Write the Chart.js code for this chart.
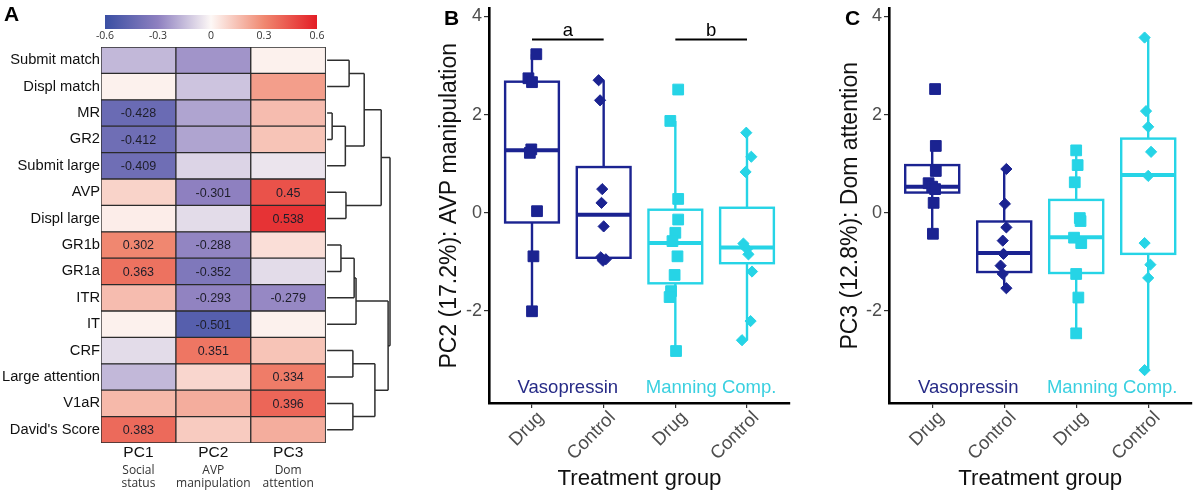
<!DOCTYPE html>
<html>
<head>
<meta charset="utf-8">
<script src="https://cdn.jsdelivr.net/npm/chart.js@4.4.1/dist/chart.umd.min.js"></script>
<style>
  html, body { margin: 0; padding: 0; background: #fff; }
  #wrap { position: relative; width: 1200px; height: 497px; overflow: hidden; }
  #wrap canvas { position: absolute; top: 0; }
</style>
</head>
<body>
<div id="wrap">
  <canvas id="chart-heat" width="430" height="497" style="left:0"></canvas>
  <canvas id="chart-pc2" width="390" height="497" style="left:430px"></canvas>
  <canvas id="chart-pc3" width="380" height="497" style="left:820px"></canvas>
</div>
<script>
/* ── Data: loadings heatmap (panel A) ── */
const rowLabels = ['Submit match', 'Displ match', 'MR', 'GR2', 'Submit large', 'AVP', 'Displ large',
  'GR1b', 'GR1a', 'ITR', 'IT', 'CRF', 'Large attention', 'V1aR', "David's Score"];
const pcNames = ['PC1', 'PC2', 'PC3'];
const pcSubtitles = [['Social', 'status'], ['AVP', 'manipulation'], ['Dom', 'attention']];
const loadPC1 = [-0.16, 0.02, -0.428, -0.412, -0.409, 0.10, 0.03, 0.302, 0.363, 0.16, 0.02, -0.07, -0.16, 0.17, 0.383];
const loadPC2 = [-0.25, -0.13, -0.21, -0.21, -0.09, -0.301, -0.07, -0.288, -0.352, -0.293, -0.501, 0.351, 0.09, 0.20, 0.12];
const loadPC3 = [0.02, 0.24, 0.16, 0.14, -0.05, 0.45, 0.538, 0.07, -0.07, -0.279, 0.02, 0.14, 0.334, 0.396, 0.20];
const colorTicks = [-0.6, -0.3, 0, 0.3, 0.6];
const colorStops = ['#3a4fa3', '#8e80c0', '#fdf8f6', '#f08870', '#e31d25'];
const labelCutoff = 0.275;
// dendrogram merges: [node a, node b, height]; leaves are row indices, merge k makes node 15 + k
const dendroMerges = [
  [0, 1, 0.35], [2, 3, 0.08], [16, 4, 0.29], [15, 17, 0.59], [5, 6, 0.30], [18, 19, 0.86],
  [7, 8, 0.22], [21, 9, 0.43], [22, 10, 0.46], [11, 12, 0.41], [13, 14, 0.41], [24, 25, 0.76],
  [23, 26, 0.97], [20, 27, 1.0]
];

/* ── Data: PC scores by treatment group (panels B, C) ── */
const groupX = [1, 2, 3, 4];
const tickNames = ['Drug', 'Control', 'Drug', 'Control'];
const yTicks = [-2, 0, 2, 4];
const groupNames = ['Vasopressin', 'Manning Comp.'];
// points: [x offset (jitter), score]
const pc2VasoDrug = [[0.06, 3.23], [-0.05, 2.74], [0.0, 2.66], [-0.01, 1.29], [-0.03, 1.22], [0.07, 0.03], [0.02, -0.89], [0.0, -2.01]];
const pc2VasoCtrl = [[-0.07, 2.70], [-0.05, 2.29], [-0.02, 0.48], [-0.03, 0.20], [0.0, -0.28], [-0.04, -0.91], [0.03, -0.95], [-0.01, -0.98]];
const pc2MannDrug = [[0.04, 2.51], [-0.07, 1.87], [0.04, 0.28], [0.04, -0.14], [0.0, -0.41], [-0.04, -0.58], [0.03, -0.89], [-0.01, -1.27], [-0.06, -1.60], [-0.08, -1.72], [0.01, -2.82]];
const pc2MannCtrl = [[-0.01, 1.63], [0.06, 1.14], [-0.02, 0.83], [-0.05, -0.63], [0.0, -0.74], [0.02, -0.85], [0.07, -1.20], [0.05, -2.21], [-0.07, -2.60]];
// boxes: [whisker low, q1, median, q3, whisker high]
const pc2Boxes = [[-2.01, -0.20, 1.27, 2.67, 3.23], [-0.98, -0.92, -0.04, 0.93, 2.70], [-2.82, -1.44, -0.62, 0.06, 1.87], [-2.60, -1.03, -0.71, 0.10, 1.63]];

const pc3VasoDrug = [[0.04, 2.52], [0.05, 1.36], [0.05, 0.85], [-0.05, 0.60], [0.0, 0.53], [0.04, 0.48], [0.02, 0.20], [0.01, -0.43]];
const pc3VasoCtrl = [[0.03, 0.89], [0.01, 0.18], [0.03, -0.30], [-0.02, -0.57], [-0.01, -0.84], [-0.05, -1.08], [-0.02, -1.25], [0.03, -1.54]];
const pc3MannDrug = [[0.0, 1.27], [0.02, 0.97], [-0.02, 0.62], [0.05, -0.11], [0.06, -0.17], [-0.03, -0.51], [0.07, -0.62], [0.0, -1.25], [0.03, -1.73], [0.0, -2.46]];
const pc3MannCtrl = [[-0.05, 3.57], [-0.03, 2.07], [0.0, 1.75], [0.04, 1.24], [0.0, 0.75], [-0.05, -0.62], [0.03, -1.06], [0.0, -1.33], [-0.05, -3.21]];
const pc3Boxes = [[-0.43, 0.41, 0.53, 0.97, 1.36], [-1.54, -1.21, -0.82, -0.18, 0.89], [-2.46, -1.23, -0.50, 0.26, 1.27], [-3.21, -0.84, 0.77, 1.51, 3.57]];

/* ── Styles ── */
const ARIAL = "'Liberation Sans', Arial, sans-serif";
const OPEN = "'Open Sans', 'Liberation Sans', sans-serif";
const navy = '#1b2391';
const cyan = '#26d4e6';
const groupColors = [navy, navy, cyan, cyan];
const groupShapes = ['rect', 'rectRot', 'rect', 'rectRot'];
const nameColors = ['#262a86', '#3ad0e0'];
const boxWidth = 0.75;

function hexToRgb(h) {
  const n = parseInt(h.slice(1), 16);
  return [(n >> 16) & 255, (n >> 8) & 255, n & 255];
}
function heatColor(v) {
  const t = Math.max(0, Math.min(colorTicks.length - 1.0001, (v - colorTicks[0]) / (colorTicks[1] - colorTicks[0])));
  const i = Math.floor(t), f = t - i;
  const a = hexToRgb(colorStops[i]), b = hexToRgb(colorStops[i + 1]);
  const c = a.map((x, k) => Math.round(x + (b[k] - x) * f));
  return `rgb(${c[0]},${c[1]},${c[2]})`;
}

/* ══ PANEL A — heatmap ══════════════════════════════════ */
const pcLoads = [loadPC1, loadPC2, loadPC3];

const heatDecor = {
  id: 'heatDecor',
  afterDraw(chart) {
    const { ctx, scales: { x, y } } = chart;
    ctx.save();

    // colour bar
    const cbL = 105, cbR = 317, cbT = 15, cbB = 29;
    const grad = ctx.createLinearGradient(cbL, 0, cbR, 0);
    colorStops.forEach((c, i) => grad.addColorStop(i / (colorStops.length - 1), c));
    ctx.fillStyle = grad;
    ctx.fillRect(cbL, cbT, cbR - cbL, cbB - cbT);
    ctx.font = `10.5px ${OPEN}`;
    ctx.fillStyle = '#333';
    ctx.textAlign = 'center';
    ctx.textBaseline = 'middle';
    colorTicks.forEach(t => {
      const px = cbL + (t - colorTicks[0]) / (colorTicks[colorTicks.length - 1] - colorTicks[0]) * (cbR - cbL);
      ctx.fillText(String(t), px, 36.5);
    });

    // values in cells
    ctx.font = `12.5px ${ARIAL}`;
    ctx.fillStyle = '#1e1e2a';
    pcLoads.forEach((vals, c) => {
      const meta = chart.getDatasetMeta(c);
      vals.forEach((v, r) => {
        if (Math.abs(v) < labelCutoff) return;
        const cx = x.getPixelForValue(c + 0.5);
        ctx.fillText(String(v), cx, meta.data[r].y + 1);
      });
    });

    // column labels
    pcNames.forEach((n, c) => {
      const cx = x.getPixelForValue(c + 0.5);
      ctx.font = `15.5px ${ARIAL}`;
      ctx.fillStyle = '#111';
      ctx.fillText(n, cx, 452.5);
      ctx.font = `12px ${OPEN}`;
      ctx.fillStyle = '#333';
      ctx.fillText(pcSubtitles[c][0], cx, 470.5);
      ctx.fillText(pcSubtitles[c][1], cx, 483.5);
    });

    // dendrogram
    const base = 3.02, span = 0.84;
    const nodeY = rowLabels.map((_, i) => y.getPixelForValue(i));
    const nodeH = rowLabels.map(() => 0);
    ctx.strokeStyle = '#2e2e2e';
    ctx.lineWidth = 1.5;
    ctx.beginPath();
    dendroMerges.forEach(([a, b, h]) => {
      const px = x.getPixelForValue(base + h * span);
      [a, b].forEach(n => {
        ctx.moveTo(x.getPixelForValue(base + nodeH[n] * span), nodeY[n]);
        ctx.lineTo(px, nodeY[n]);
      });
      ctx.moveTo(px, nodeY[a]);
      ctx.lineTo(px, nodeY[b]);
      nodeY.push((nodeY[a] + nodeY[b]) / 2);
      nodeH.push(h);
    });
    ctx.stroke();

    // panel letter
    ctx.font = `bold 21px ${ARIAL}`;
    ctx.fillStyle = '#000';
    ctx.textAlign = 'left';
    ctx.fillText('A', 4, 15);
    ctx.restore();
  }
};

new Chart(document.getElementById('chart-heat'), {
  type: 'bar',
  data: {
    labels: rowLabels,
    datasets: pcLoads.map((vals, c) => ({
      label: pcNames[c],
      data: vals.map(() => [c, c + 1]),
      backgroundColor: vals.map(heatColor),
      borderColor: '#2b2b2b',
      borderWidth: 1,
      borderSkipped: false,
      grouped: false,
      barPercentage: 1,
      categoryPercentage: 1
    }))
  },
  options: {
    indexAxis: 'y',
    responsive: false,
    animation: false,
    layout: { padding: { top: 47, bottom: 54, left: 0, right: 40 } },
    plugins: { legend: { display: false }, tooltip: { enabled: false } },
    scales: {
      x: { type: 'linear', min: 0, max: 3.86, display: false },
      y: {
        type: 'category',
        grid: { display: false, drawTicks: false },
        border: { display: false },
        ticks: { font: { family: ARIAL, size: 14.7 }, color: '#111', padding: 1 },
        afterFit: s => { s.width = 101; s.paddingTop = 0; s.paddingBottom = 0; }
      }
    }
  },
  plugins: [heatDecor]
});

/* ══ PANELS B, C — score box plots ══════════════════════ */
const scoreDecor = {
  id: 'scoreDecor',
  beforeDatasetsDraw(chart, args, o) {
    const { ctx, scales: { x, y } } = chart;
    ctx.save();
    o.boxes.forEach((b, i) => {
      const cx = x.getPixelForValue(groupX[i]);
      const l = x.getPixelForValue(groupX[i] - boxWidth / 2);
      const r = x.getPixelForValue(groupX[i] + boxWidth / 2);
      const [lo, q1, med, q3, hi] = b.map(v => y.getPixelForValue(v));
      ctx.strokeStyle = groupColors[i];
      ctx.lineWidth = 2.4;
      ctx.beginPath();
      ctx.moveTo(cx, lo); ctx.lineTo(cx, q1);
      ctx.moveTo(cx, q3); ctx.lineTo(cx, hi);
      ctx.stroke();
      ctx.strokeRect(l, q3, r - l, q1 - q3);
      ctx.lineWidth = 4;
      ctx.beginPath();
      ctx.moveTo(l, med); ctx.lineTo(r, med);
      ctx.stroke();
    });
    ctx.restore();
  },
  afterDraw(chart, args, o) {
    const { ctx, scales: { x, y } } = chart;
    ctx.save();
    ctx.textAlign = 'center';
    ctx.textBaseline = 'middle';
    ctx.font = `18.5px ${ARIAL}`;
    groupNames.forEach((n, g) => {
      ctx.fillStyle = nameColors[g];
      const cx = x.getPixelForValue((groupX[2 * g] + groupX[2 * g + 1]) / 2);
      ctx.fillText(n, cx, y.getPixelForValue(-3.57));
    });
    if (o.brackets) {
      ctx.strokeStyle = '#000';
      ctx.lineWidth = 2;
      ctx.fillStyle = '#000';
      ctx.textBaseline = 'alphabetic';
      o.brackets.forEach(([g0, g1, lab]) => {
        const py = y.getPixelForValue(3.53);
        const x0 = x.getPixelForValue(groupX[g0]), x1 = x.getPixelForValue(groupX[g1]);
        ctx.beginPath(); ctx.moveTo(x0, py); ctx.lineTo(x1, py); ctx.stroke();
        ctx.fillText(lab, (x0 + x1) / 2, py - 4);
      });
    }
    ctx.font = `bold 21px ${ARIAL}`;
    ctx.fillStyle = '#000';
    ctx.textAlign = 'left';
    ctx.textBaseline = 'middle';
    ctx.fillText(o.letter, o.letterX, 19);
    ctx.restore();
  }
};

function renderScoreChart(id, groups, boxes, cfg) {
  new Chart(document.getElementById(id), {
    type: 'scatter',
    data: {
      datasets: groups.map((pts, i) => ({
        label: tickNames[i],
        data: pts.map(p => ({ x: groupX[i] + p[0], y: p[1] })),
        pointStyle: groupShapes[i],
        pointRadius: groupShapes[i] === 'rect' ? 7.6 : 5.6,
        backgroundColor: groupColors[i],
        borderColor: groupColors[i],
        borderWidth: 1
      }))
    },
    options: {
      responsive: false,
      animation: false,
      layout: { padding: { top: 7, bottom: 5, left: 0, right: cfg.padRight } },
      plugins: {
        legend: { display: false },
        tooltip: { enabled: false },
        scoreDecor: { boxes, brackets: cfg.brackets, letter: cfg.letter, letterX: cfg.letterX }
      },
      scales: {
        x: {
          type: 'linear', min: 0.4, max: 4.6,
          afterBuildTicks: s => { s.ticks = groupX.map(v => ({ value: v })); },
          afterFit: s => { s.height = 89; s.paddingLeft = 0; s.paddingRight = 0; },
          ticks: {
            callback: v => tickNames[groupX.indexOf(v)],
            minRotation: 45, maxRotation: 45, labelOffset: 9,
            font: { family: ARIAL, size: 18.5 }, color: '#4d4d4d', padding: -1
          },
          grid: { drawOnChartArea: false, tickLength: 5, color: '#333', lineWidth: 1.2 },
          border: { color: '#000', width: 2.6 },
          title: { display: true, text: 'Treatment group', font: { family: ARIAL, size: 22.3 }, color: '#111', padding: { top: 0, bottom: 0 } }
        },
        y: {
          type: 'linear', min: -3.88, max: 4.16,
          afterBuildTicks: s => { s.ticks = yTicks.map(v => ({ value: v })); },
          afterFit: s => { s.width = cfg.axisLeft; s.paddingTop = 0; s.paddingBottom = 0; },
          ticks: { font: { family: ARIAL, size: 18 }, color: '#4d4d4d', padding: 2 },
          grid: { drawOnChartArea: false, tickLength: 5, color: '#333', lineWidth: 1.2 },
          border: { color: '#000', width: 2.6 },
          title: { display: true, text: cfg.yTitle, font: { family: ARIAL, size: 23 }, color: '#111', padding: { top: cfg.titlePad, bottom: 0 } }
        }
      }
    },
    plugins: [scoreDecor]
  });
}

renderScoreChart('chart-pc2', [pc2VasoDrug, pc2VasoCtrl, pc2MannDrug, pc2MannCtrl], pc2Boxes, {
  yTitle: 'PC2 (17.2%): AVP manipulation', axisLeft: 59, padRight: 30, titlePad: 6,
  letter: 'B', letterX: 14, brackets: [[0, 1, 'a'], [2, 3, 'b']]
});
renderScoreChart('chart-pc3', [pc3VasoDrug, pc3VasoCtrl, pc3MannDrug, pc3MannCtrl], pc3Boxes, {
  yTitle: 'PC3 (12.8%): Dom attention', axisLeft: 69, padRight: 8, titlePad: 17,
  letter: 'C', letterX: 25, brackets: null
});
</script>
</body>
</html>
